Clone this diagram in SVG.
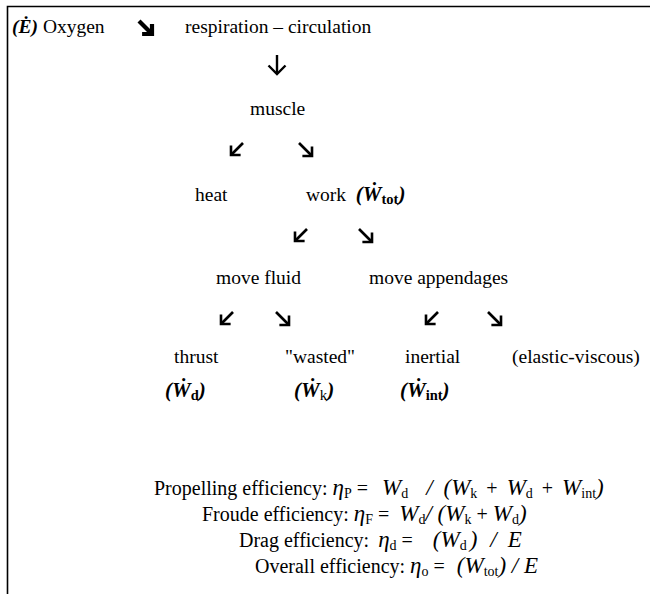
<svg xmlns="http://www.w3.org/2000/svg" width="650" height="594" viewBox="0 0 650 594">
<style>
text{font-family:"Liberation Serif","Times New Roman",serif;font-size:19.5px;fill:#000;white-space:pre}
.eq{font-size:20px}
.bi{font-weight:bold;font-style:italic}
.bw{font-weight:bold;font-style:italic;font-size:21px}
.i{font-style:italic}
.m{font-style:italic;font-size:23px}
.sub{font-size:14px;baseline-shift:-3px;font-style:normal}
.bsub{font-size:14.5px;baseline-shift:-3px;font-weight:bold;font-style:normal}
.arr{fill:none;stroke:#000;stroke-width:2.6}
.frame{fill:none;stroke:#000;stroke-width:1.6}
</style>
<defs>
<marker id="hd" markerUnits="userSpaceOnUse" orient="auto" markerWidth="30" markerHeight="30" viewBox="-15 -15 30 30" refX="0" refY="0" overflow="visible">
<path d="M-6.8,-6.8 L0,0 L-6.8,6.8" fill="none" stroke="#000" stroke-width="2.6"/>
</marker>
<marker id="hdBig" markerUnits="userSpaceOnUse" orient="auto" markerWidth="30" markerHeight="30" viewBox="-15 -15 30 30" refX="0" refY="0" overflow="visible">
<path d="M-8.5,-8.5 L0,0 L-8.5,8.5" fill="none" stroke="#000" stroke-width="2.4"/>
</marker>
<marker id="hdBold" markerUnits="userSpaceOnUse" orient="auto" markerWidth="30" markerHeight="30" viewBox="-15 -15 30 30" refX="0" refY="0" overflow="visible">
<path d="M-7,-7 L0,0 L-7,7" fill="none" stroke="#000" stroke-width="4.2"/>
</marker>
</defs>
<path class="frame" d="M7.5,594 L7.5,6.5 L650,6.5"/>
<g id="connectors">
<path class="arr" style="stroke-width:4.2" d="M139,21 L152,34" marker-end="url(#hdBold)"/>
<path class="arr" style="stroke-width:2.4" d="M277,55 L277,74" marker-end="url(#hdBig)"/>
<path class="arr" d="M243,143 L231,155" marker-end="url(#hd)"/>
<path class="arr" d="M299,143 L312,156" marker-end="url(#hd)"/>
<path class="arr" d="M307,229 L295,241" marker-end="url(#hd)"/>
<path class="arr" d="M359,229 L372,242" marker-end="url(#hd)"/>
<path class="arr" d="M233,312 L221,324" marker-end="url(#hd)"/>
<path class="arr" d="M276,312 L289,325" marker-end="url(#hd)"/>
<path class="arr" d="M438,312 L426,324" marker-end="url(#hd)"/>
<path class="arr" d="M488,312 L501,325" marker-end="url(#hd)"/>
</g>
<g id="oxygen"><text x="12" y="33"><tspan class="bi">(Ė)</tspan> Oxygen</text></g>
<g id="respiration"><text x="185" y="33">respiration – circulation</text></g>
<g id="muscle"><text x="250" y="115">muscle</text></g>
<g id="heat"><text x="195" y="201">heat</text></g>
<g id="work"><text x="306" y="201">work  <tspan class="bw">(Ẇ</tspan><tspan class="bsub">tot</tspan><tspan class="bw">)</tspan></text></g>
<g id="move-fluid"><text x="216" y="284">move fluid</text></g>
<g id="move-appendages"><text x="369" y="284">move appendages</text></g>
<g id="thrust"><text x="174" y="363">thrust</text><text x="165" y="397"><tspan class="bw">(Ẇ</tspan><tspan class="bsub">d</tspan><tspan class="bw">)</tspan></text></g>
<g id="wasted"><text x="285" y="363">"wasted"</text><text x="294" y="397"><tspan class="bw">(Ẇ</tspan><tspan class="sub" style="font-size:15px">k</tspan><tspan class="bw">)</tspan></text></g>
<g id="inertial"><text x="405" y="363">inertial</text><text x="400" y="397"><tspan class="bw">(Ẇ</tspan><tspan class="bsub">int</tspan><tspan class="bw">)</tspan></text></g>
<g id="elastic"><text x="512" y="363">(elastic-viscous)</text></g>
<g id="equations">
<text class="eq" x="154" y="495">Propelling efficiency: <tspan class="m">η</tspan><tspan class="sub">P</tspan> =  <tspan class="m" dx="4">W</tspan><tspan class="sub">d</tspan>  <tspan class="m" dx="8">/</tspan> <tspan class="m" dx="6">(W</tspan><tspan class="sub">k</tspan> <tspan dx="4">+</tspan> <tspan class="m" dx="4">W</tspan><tspan class="sub">d</tspan> <tspan dx="4">+</tspan> <tspan class="m" dx="4">W</tspan><tspan class="sub">int</tspan><tspan class="m">)</tspan></text>
<text class="eq" x="202" y="521">Froude efficiency: <tspan class="m">η</tspan><tspan class="sub">F</tspan> =  <tspan class="m">W</tspan><tspan class="sub">d</tspan><tspan class="m">/ (W</tspan><tspan class="sub">k</tspan> + <tspan class="m">W</tspan><tspan class="sub">d</tspan><tspan class="m">)</tspan></text>
<text class="eq" x="239" y="547">Drag efficiency: <tspan class="m" dx="4">η</tspan><tspan class="sub">d</tspan> =  <tspan class="m" dx="10">(W</tspan><tspan class="sub">d</tspan><tspan class="m" dx="3">)</tspan> <tspan class="m" dx="8">/</tspan> <tspan class="m" dx="6">E</tspan></text>
<text class="eq" x="255" y="573">Overall efficiency: <tspan class="m">η</tspan><tspan class="sub">o</tspan> =  <tspan class="m" dx="2">(W</tspan><tspan class="sub">tot</tspan><tspan class="m">) / E</tspan></text>
</g>
</svg>
